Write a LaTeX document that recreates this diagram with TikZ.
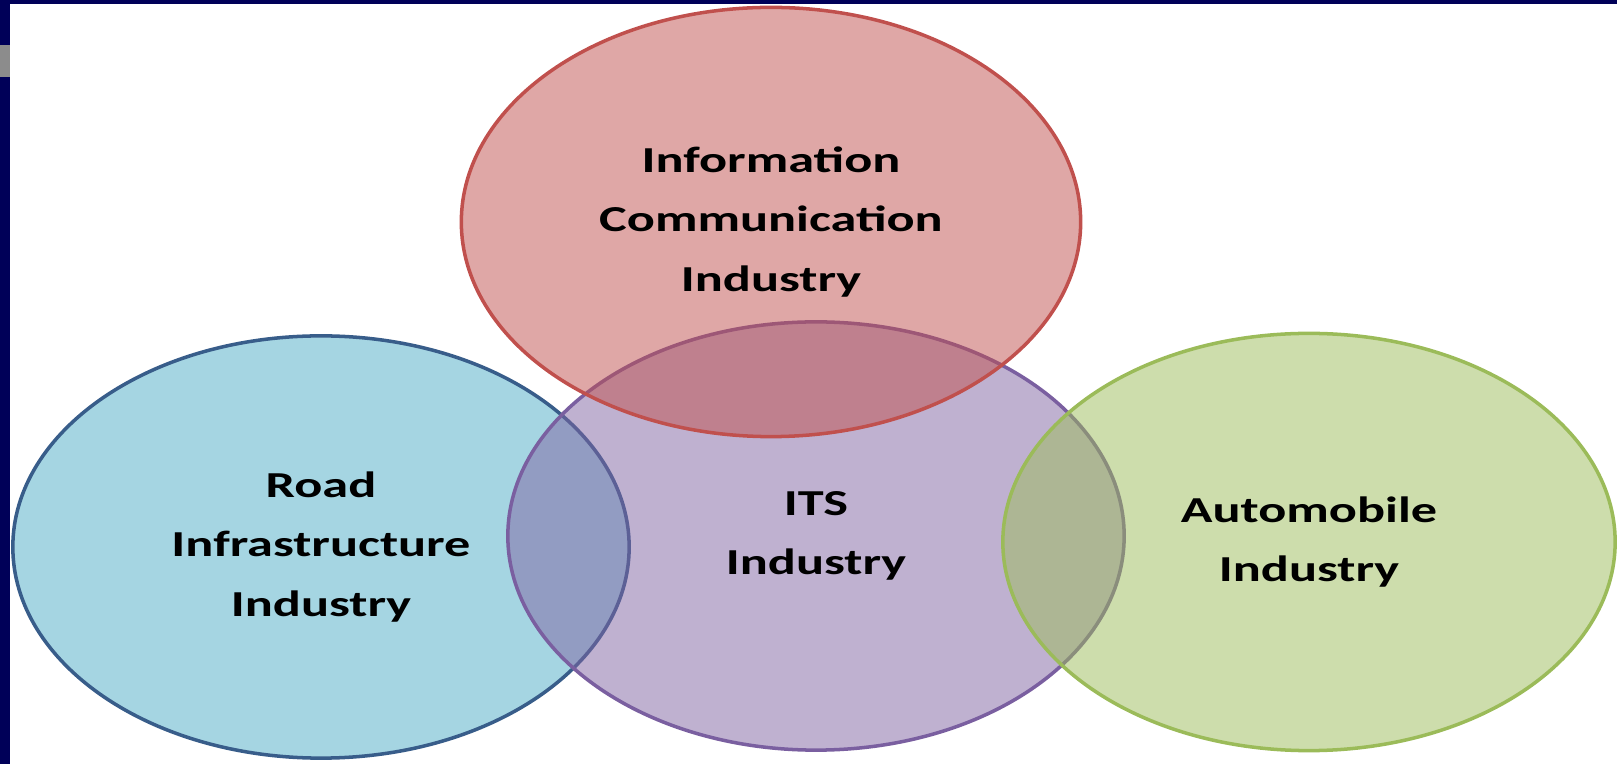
\documentclass[tikz,border=0pt]{standalone}
\usepackage{fontspec}
\setmainfont{Carlito}[FakeStretch=1.43]
\usetikzlibrary{shapes.geometric}

\definecolor{navy}{RGB}{0,0,88}
\definecolor{ictred}{RGB}{192,80,77}
\definecolor{roadblue}{RGB}{75,172,198}
\definecolor{roadline}{RGB}{56,93,138}
\definecolor{itspurple}{RGB}{128,100,162}
\definecolor{itsline}{RGB}{122,95,160}
\definecolor{autogreen}{RGB}{155,187,89}

\begin{document}
\begin{tikzpicture}[x=0.01cm, y=-0.01cm,
    bubble/.style={draw, ellipse, line width=1pt, fill opacity=0.5, text opacity=1,
      align=center, font=\fontsize{10.4}{16.8}\selectfont\bfseries}]
            \useasboundingbox (0,0) rectangle (1617,764);

            % frame of the slide
            \fill[navy] (0,0) rectangle (1617,4);
            \fill[navy] (0,0) rectangle (10,764);
            \fill[black!45] (0,45) rectangle (10,77);

            % the four industries
            \node[bubble, fill=roadblue, draw=roadline, minimum width=6.16cm, minimum height=4.22cm] (RI) at (321,547) {Road\\Infrastructure\\Industry};
            \node[bubble, fill=itspurple, draw=itsline, minimum width=6.16cm, minimum height=4.28cm] (ITS) at (816,536) {ITS\\Industry};
            \node[bubble, fill=ictred, draw=ictred, minimum width=6.19cm, minimum height=4.29cm] (ICT) at (771,222) {Information\\Communication\\Industry};
            \node[bubble, fill=autogreen, draw=autogreen, minimum width=6.12cm, minimum height=4.17cm] (AI) at (1309,542) {Automobile\\Industry};
        \end{tikzpicture}
\end{document}
